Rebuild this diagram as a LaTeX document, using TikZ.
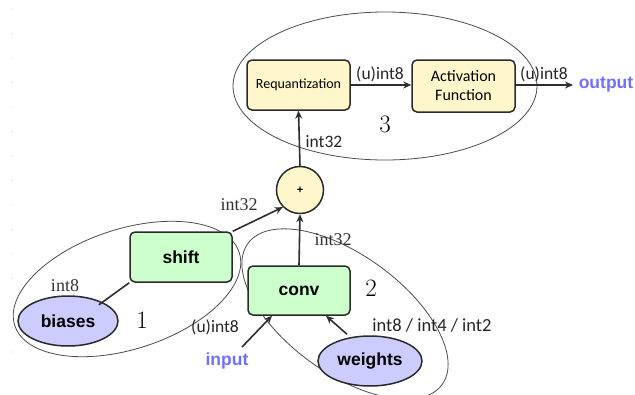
\documentclass[tikz,border=0pt]{standalone}
\usepackage{fontspec}
\newfontfamily\arialf{Liberation Sans}
\newfontfamily\timesf{Liberation Serif}
\newfontfamily\calf{Carlito}
\usetikzlibrary{arrows.meta,shapes.geometric}
\definecolor{boxyellow}{HTML}{FFF6CC}
\definecolor{boxgreen}{HTML}{CCFFCC}
\definecolor{lav}{HTML}{CCCCFF}
\definecolor{outblue}{HTML}{7070FF}
\definecolor{edge}{HTML}{2A2A2A}
\tikzset{
  yblock/.style={draw=edge, line width=1.5pt, fill=boxyellow, rounded corners=5pt, align=center, font=\calf\fontsize{14}{16}\selectfont},
  gblock/.style={draw=edge, line width=1.5pt, fill=boxgreen, rounded corners=5pt, font=\arialf\bfseries\fontsize{17.5}{20}\selectfont},
  operand/.style={ellipse, draw=edge, line width=1.5pt, fill=lav, font=\arialf\bfseries\fontsize{17.5}{20}\selectfont},
  group/.style={ellipse, draw=black!70, line width=0.8pt},
  flow/.style={draw=black!82, line width=1.6pt, -{Stealth[length=8pt,width=7pt]}},
  tie/.style={draw=black!82, line width=1.6pt},
  sanslbl/.style={font=\calf\fontsize{17.5}{20}\selectfont, text=black!85},
  seriflbl/.style={font=\timesf\fontsize{18}{20}\selectfont, text=black!80},
  grpnum/.style={font=\rmfamily\fontsize{25}{28}\selectfont},
  ioname/.style={font=\arialf\bfseries\fontsize{17.5}{20}\selectfont, text=outblue},
  tick/.style={fill=black!20, inner sep=0pt, minimum size=1.3pt, circle}
}
\begin{document}
\begin{tikzpicture}[x=1pt,y=-1pt]
\useasboundingbox (0,0) rectangle (635,394);
\fill[white] (0,0) rectangle (635,394);

% faint ticks along the left margin
\foreach \i in {0,...,14} \node[tick] (tk\i) at (12,{9+24.5*\i}) {};

% group outlines
\node[group, minimum width=304pt, minimum height=148pt] (g3) at (385,86) {};
\node[group, minimum width=236pt, minimum height=120pt, rotate=18] (g1) at (127,289) {};
\node[group, minimum width=240pt, minimum height=118pt, rotate=-36] (g2) at (345,314) {};

% blocks
\node[yblock, minimum width=103pt, minimum height=50pt, inner sep=1pt] (rq) at (298.5,85) {Requantization};
\node[yblock, minimum width=103pt, minimum height=52pt, font=\calf\fontsize{16}{19}\selectfont] (act) at (463.5,86) {Activation\\Function};
\node[circle, draw=edge, line width=1.5pt, fill=boxyellow, minimum size=47pt, inner sep=0pt, font=\arialf\bfseries\fontsize{11}{12}\selectfont] (sum) at (300,190) {+};
\node[gblock, minimum width=102pt, minimum height=50pt] (shift) at (181,257) {shift};
\node[gblock, minimum width=102pt, minimum height=49pt] (conv) at (299,290.5) {conv};
\node[operand, minimum width=100pt, minimum height=50pt, inner sep=0pt] (bias) at (68,321) {biases};
\node[operand, minimum width=104pt, minimum height=50pt, inner sep=0pt] (wts) at (370,361) {weights};

% free ends
\coordinate (outend) at (573,85);
\coordinate (instart) at (242,347);

% connectors
\draw[flow] (rq.east) -- (act.west|-rq.east);
\draw[flow] (act.east|-outend) -- (outend);
\draw[flow] (sum.north) -- (rq.south);
\draw[flow] (shift.north east) -- (sum.south west);
\draw[flow] (conv.north) -- (sum.south);
\draw[tie] (bias.north east) ++(-5,2) -- (shift.south west);
\draw[flow] (instart) -- ([xshift=-27pt]conv.south);
\draw[flow] (wts.north) ++(-23,-1) -- ([xshift=27pt]conv.south);

% labels
\node[sanslbl] (l1) at (380,74) {(u)int8};
\node[sanslbl] (l2) at (544,74) {(u)int8};
\node[ioname] (outl) at (606,85) {output};
\node[sanslbl] (l3) at (324,142) {int32};
\node[seriflbl] (l4) at (239,205) {int32};
\node[seriflbl] (l5) at (333,240) {int32};
\node[seriflbl] (l6) at (65,286) {int8};
\node[sanslbl] (l7) at (215,327) {(u)int8};
\node[ioname] (inl) at (227,361) {input};
\node[sanslbl, font=\calf\fontsize{18.5}{20}\selectfont] (l8) at (432,325) {int8 / int4 / int2};
\node[grpnum] (n1) at (142,320) {1};
\node[grpnum] (n2) at (371,288) {2};
\node[grpnum] (n3) at (385,124) {3};
\end{tikzpicture}
\end{document}
